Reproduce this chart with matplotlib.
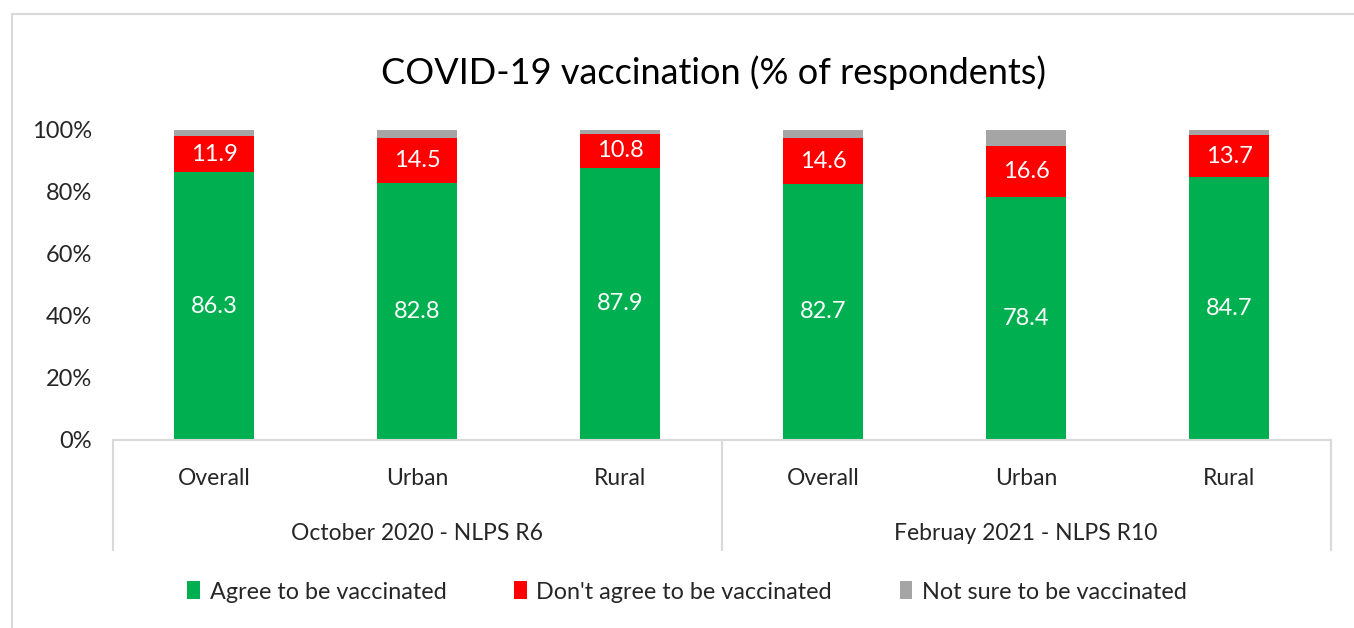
import numpy as np
import matplotlib
matplotlib.use("Agg")
import matplotlib.pyplot as plt
from matplotlib.patches import Rectangle, Patch
from matplotlib.transforms import blended_transform_factory

plt.rcParams['font.family'] = ['Lato', 'DejaVu Sans']

# --- Data ---
subcategories = ["Overall", "Urban", "Rural", "Overall", "Urban", "Rural"]
groups = ["October 2020 - NLPS R6", "Februay 2021 - NLPS R10"]
agree = [86.3, 82.8, 87.9, 82.7, 78.4, 84.7]
disagree = [11.9, 14.5, 10.8, 14.6, 16.6, 13.7]
not_sure = [1.8, 2.7, 1.3, 2.7, 5.0, 1.6]
series_names = ["Agree to be vaccinated", "Don't agree to be vaccinated",
                "Not sure to be vaccinated"]
colors = ["#00b050", "#ff0000", "#a5a5a5"]

# --- Figure ---
fig = plt.figure(figsize=(13.54, 6.28), dpi=100)
fig.patches.append(Rectangle((12 / 1354, -0.01), 1.0, 0.9877,
                             transform=fig.transFigure, fill=False,
                             edgecolor="#d9d9d9", linewidth=1.5))

ax = fig.add_axes([112.5 / 1354, 1 - 440 / 628, 1218 / 1354, 310 / 628])

x = np.arange(len(subcategories))
w = 0.39
agree = np.array(agree)
disagree = np.array(disagree)
not_sure = np.array(not_sure)

ax.bar(x, agree, w, color=colors[0])
ax.bar(x, disagree, w, bottom=agree, color=colors[1])
ax.bar(x, not_sure, w, bottom=agree + disagree, color=colors[2])

for xi, a, d in zip(x, agree, disagree):
    ax.text(xi, a / 2, f"{a:.1f}", ha="center", va="center", color="white", fontsize=17)
    ax.text(xi, a + d / 2, f"{d:.1f}", ha="center", va="center", color="white", fontsize=17)

ax.set_xlim(-0.5, len(x) - 0.5)
ax.set_ylim(0, 100)
ax.set_yticks(np.arange(0, 101, 20))
ax.set_yticklabels([f"{v}%" for v in range(0, 101, 20)], fontsize=17, color="#262626")
ax.tick_params(axis="y", length=0, pad=14.5)
ax.set_xticks([])
for s in ["top", "right", "left"]:
    ax.spines[s].set_visible(False)
ax.spines["bottom"].set_color("#d9d9d9")
ax.spines["bottom"].set_linewidth(1.5)

# --- Multi-level category axis ---
tr = blended_transform_factory(ax.transData, ax.transAxes)
for xv in [-0.5, 2.5, 5.5]:
    ax.plot([xv, xv], [0, -0.355], transform=tr, color="#d9d9d9", lw=1.5, clip_on=False)
for xi, lab in zip(x, subcategories):
    ax.text(xi, -0.125, lab, transform=tr, ha="center", va="center", fontsize=16.5, color="#262626")
for gi, g in enumerate(groups):
    ax.text(1 + 3 * gi, -0.30, g, transform=tr, ha="center", va="center", fontsize=16.5, color="#262626")

fig.text(0.527, 1 - 73 / 628, "COVID-19 vaccination (% of respondents)",
         ha="center", va="center", fontsize=26, color="#000000")

handles = [Patch(facecolor=c) for c in colors]
fig.legend(handles, series_names, loc="center", bbox_to_anchor=(0.5074, 1 - 592 / 628),
           ncol=3, frameon=False, fontsize=16.8, handlelength=0.55, handleheight=0.8,
           handletextpad=0.4, columnspacing=2.9, labelcolor="#262626")

fig.savefig("out.png", dpi=100)
